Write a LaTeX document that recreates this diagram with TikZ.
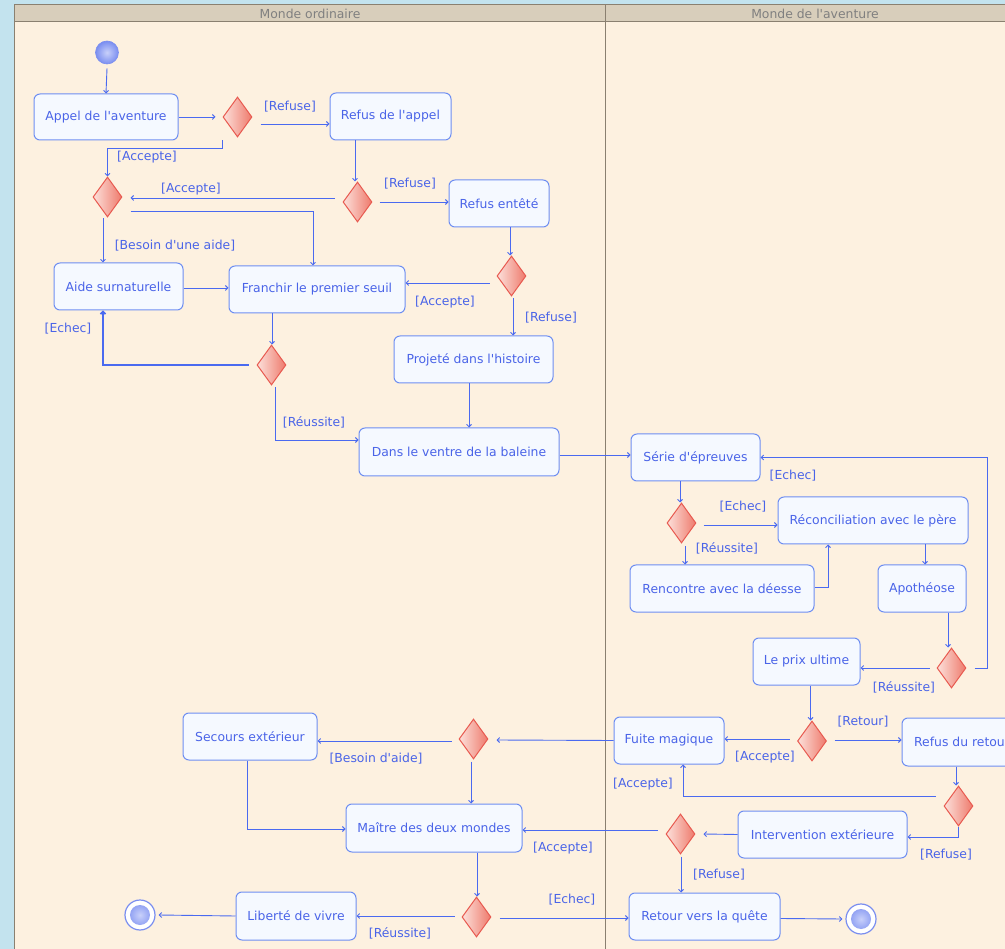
\documentclass[tikz,border=0pt]{standalone}
\usepackage{fontspec}
\setmainfont{DejaVu Sans}[Ligatures=TeXOff]
\usetikzlibrary{arrows.meta,shapes.geometric,calc}

\definecolor{bgblue}{HTML}{C3E3EE}
\definecolor{lanefill}{HTML}{FDF1E0}
\definecolor{headfill}{HTML}{D8CEBB}
\definecolor{framec}{HTML}{8A8070}
\definecolor{headtxt}{HTML}{808080}
\definecolor{linec}{HTML}{4A6AF0}
\definecolor{txtc}{HTML}{4A64E8}
\definecolor{boxc}{HTML}{6E8EF2}
\definecolor{boxf}{HTML}{F5F9FF}
\definecolor{decc}{HTML}{E85A50}
\definecolor{decl}{HTML}{FCE0DA}
\definecolor{decr}{HTML}{EE7A6C}
\definecolor{ballin}{HTML}{C8D0FA}
\definecolor{ballout}{HTML}{7A8EF0}

\begin{document}
\begin{tikzpicture}[x=1pt,y=-1pt,
  font=\fontsize{12.4}{14}\selectfont,
  flow/.style={draw=linec, line width=0.9pt, -{Straight Barb[length=2.5pt,width=5pt]}},
  act/.style={rectangle, rounded corners=6pt, draw=boxc, fill=boxf, line width=1pt,
    text=txtc, inner sep=0pt},
  dec/.style={diamond, draw=decc, line width=1pt, left color=decl, right color=decr,
    minimum width=29pt, minimum height=40pt, inner sep=0pt},
  guard/.style={text=txtc, inner sep=0pt},
  lanetitle/.style={text=headtxt, inner sep=0pt},
  startnode/.style={circle, minimum size=23pt, inner sep=0pt, draw=ballout, line width=0.6pt,
    shading=radial, inner color=ballin, outer color=ballout},
  endnode/.style={circle, minimum size=30pt, inner sep=0pt, draw=ballout, line width=1.2pt,
    fill=white, path picture={\shade[inner color=ballin, outer color=ballout]
      (path picture bounding box.center) circle (10pt);}}
]
\clip (0,0) rectangle (1005,949);
\fill[bgblue] (0,0) rectangle (1005,949);

% swimlanes
\filldraw[fill=lanefill, draw=framec, line width=1pt] (14.5,4.5) rectangle (1040,960);
\filldraw[fill=headfill, draw=framec, line width=1pt] (14.5,4.5) rectangle (1040,22);
\draw[framec, line width=1pt] (605.5,4.5) -- (605.5,960);
\node[lanetitle] (lane1) at (310,13.5) {Monde ordinaire};
\node[lanetitle] (lane2) at (815,13.5) {Monde de l'aventure};

% activities
\node[act, minimum width=144pt, minimum height=46pt] (appel) at (106,117) {Appel de l'aventure};
\node[act, minimum width=121pt, minimum height=47pt] (refusappel) at (390.5,116.5) {Refus de l'appel};
\node[act, minimum width=100pt, minimum height=47pt] (entete) at (499,203.5) {Refus entêté};
\node[act, minimum width=129pt, minimum height=47pt] (aide) at (118.5,286.5) {Aide surnaturelle};
\node[act, minimum width=176pt, minimum height=47pt] (franchir) at (317,289.5) {Franchir le premier seuil};
\node[act, minimum width=159pt, minimum height=47pt] (projete) at (473.5,359.5) {Projeté dans l'histoire};
\node[act, minimum width=200pt, minimum height=48pt] (ventre) at (459,452) {Dans le ventre de la baleine};
\node[act, minimum width=129pt, minimum height=47pt] (serie) at (695.5,457.5) {Série d'épreuves};
\node[act, minimum width=190pt, minimum height=47pt] (reconc) at (873,520.5) {Réconciliation avec le père};
\node[act, minimum width=184pt, minimum height=47pt] (rencontre) at (722,588.5) {Rencontre avec la déesse};
\node[act, minimum width=88pt, minimum height=47pt] (apotheose) at (922,588.5) {Apothéose};
\node[act, minimum width=107pt, minimum height=47pt] (prix) at (806.5,661.5) {Le prix ultime};
\node[act, minimum width=110pt, minimum height=47pt] (fuite) at (669,740.5) {Fuite magique};
\node[act, minimum width=120pt, minimum height=48pt] (refusretour) at (962,742) {Refus du retour};
\node[act, minimum width=169pt, minimum height=47pt] (intervention) at (822.5,834.5) {Intervention extérieure};
\node[act, minimum width=151pt, minimum height=47pt] (retourquete) at (704.5,916.5) {Retour vers la quête};
\node[act, minimum width=134pt, minimum height=47pt] (secours) at (250,736.5) {Secours extérieur};
\node[act, minimum width=176pt, minimum height=48pt] (maitre) at (434,828) {Maître des deux mondes};
\node[act, minimum width=120pt, minimum height=48pt] (liberte) at (296,916) {Liberté de vivre};

% decisions
\node[dec] (d1) at (237.5,117) {};
\node[dec] (d2) at (107.5,197) {};
\node[dec] (d3) at (357.5,202) {};
\node[dec] (d4) at (511.5,276) {};
\node[dec] (d5) at (271.5,365) {};
\node[dec] (d6) at (681.5,523) {};
\node[dec] (d7) at (951.5,668) {};
\node[dec] (d8) at (812,741) {};
\node[dec] (d9) at (958.5,806) {};
\node[dec] (d10) at (680.5,834) {};
\node[dec] (d11) at (473.5,739) {};
\node[dec] (d12) at (476.5,917) {};

% start and end
\node[startnode] (init) at (107,52.5) {};
\node[endnode] (fin1) at (140,915) {};
\node[endnode] (fin2) at (861,919) {};

% flows, ordinary world
\draw[flow] ($(init.south)+(0,4)$) -- (appel.north);
\draw[flow] (appel.east) -- ($(d1.west)+(-7,0)$);
\draw[flow] ($(d1.east)+(8,7)$) -- ($(refusappel.west)+(0,7.5)$);
\draw[flow] ($(d1.south)+(-15.5,3)$) |- ($(d2.north)+(0,-28)$) -- (d2.north);
\draw[flow] ($(refusappel.south)+(-35.5,0)$) -- ($(d3.north)+(-2.5,0)$);
\draw[flow] ($(d3.west)+(-8,-4)$) -- ($(d2.east)+(8,1)$);
\draw[flow] ($(d3.east)+(7,0)$) -- ($(entete.west)+(0,-1.5)$);
\draw[flow] ($(d2.east)+(8,14)$) -| ($(franchir.north)+(-4,0)$);
\draw[flow] ($(d2.south)+(-4.5,1)$) -- ($(aide.north)+(-15.5,0)$);
\draw[flow] ($(aide.east)+(0,1.5)$) -- ($(franchir.west)+(0,-1.5)$);
\draw[flow] ($(entete.south)+(11,0)$) -- ($(d4.north)+(-1.5,0)$);
\draw[flow] ($(d4.west)+(-7,7)$) -- ($(franchir.east)+(0,-6.5)$);
\draw[flow] ($(d4.south)+(1.5,2)$) -- ($(projete.north)+(39.5,0)$);
\draw[flow] ($(franchir.south)+(-45,0)$) -- ($(d5.north)+(0.5,0)$);
\draw[flow, line width=1.6pt] ($(d5.west)+(-8,0)$) -| ($(aide.south)+(-15.5,0)$);
\draw[flow] ($(d5.south)+(3.5,2)$) |- ($(ventre.west)+(0,-12)$);
\draw[flow] ($(projete.south)+(-4.5,0)$) -- ($(ventre.north)+(10,0)$);
\draw[flow] ($(ventre.east)+(0,3)$) -- ($(serie.west)+(0,-2.5)$);

% flows, world of adventure
\draw[flow] ($(serie.south)+(-15.5,0)$) -- ($(d6.north)+(-1.5,0)$);
\draw[flow] ($(d6.east)+(7,2)$) -- ($(reconc.west)+(0,4.5)$);
\draw[flow] ($(d6.south)+(3.5,3)$) -- ($(rencontre.north)+(-37,0)$);
\draw[flow] ($(rencontre.east)+(0,-1.5)$) -| ($(reconc.south)+(-45,0)$);
\draw[flow] ($(reconc.south)+(52,0)$) -- ($(apotheose.north)+(3,0)$);
\draw[flow] ($(apotheose.south)+(26,0)$) -- ($(d7.north)+(-3.5,0)$);
\draw[flow] ($(d7.east)+(8,0)$) -- ++(13,0) |- (serie.east);
\draw[flow] ($(d7.west)+(-7,0)$) -- ($(prix.east)+(0,6.5)$);
\draw[flow] ($(prix.south)+(4,0)$) -- ($(d8.north)+(-1.5,0)$);
\draw[flow] ($(d8.west)+(-7.5,-2)$) -- ($(fuite.east)+(0,-1.5)$);
\draw[flow] ($(d8.east)+(7.5,-1)$) -- ($(refusretour.west)+(0,-2)$);
\draw[flow] ($(refusretour.south)+(-6,0)$) -- ($(d9.north)+(-2.5,0)$);
\draw[flow] ($(d9.west)+(-8,-10)$) -| ($(fuite.south)+(14,0)$);
\draw[flow] (d9.south) |- ($(intervention.east)+(0,2.5)$);
\draw[flow] (intervention.west) -- ($(d10.east)+(8,0)$);
\draw[flow] ($(d10.west)+(-8,-4)$) -- ($(maitre.east)+(0,2)$);
\draw[flow] ($(d10.south)+(0.5,2)$) -- ($(retourquete.north)+(-23.5,0)$);
\draw[flow] (fuite.west) -- ($(d11.east)+(8,1)$);
\draw[flow] ($(d11.west)+(-7,2)$) -- ($(secours.east)+(0,4.5)$);
\draw[flow] ($(d11.south)+(-2.5,2)$) -- ($(maitre.north)+(37,0)$);
\draw[flow] ($(secours.south)+(-3,0)$) |- ($(maitre.west)+(0,1)$);
\draw[flow] ($(maitre.south)+(43,0)$) -- ($(d12.north)+(0.5,0)$);
\draw[flow] ($(d12.west)+(-7,-1)$) -- (liberte.east);
\draw[flow] ($(d12.east)+(8,1)$) -- ($(retourquete.west)+(0,1.5)$);
\draw[flow] (liberte.west) -- ($(fin1.east)+(3,0)$);
\draw[flow] ($(retourquete.east)+(0,2)$) -- ($(fin2.west)+(-3,0)$);

% guards
\node[guard] (g1) at (290,107) {[Refuse]};
\node[guard] (g2) at (147,157) {[Accepte]};
\node[guard] (g3) at (191,189) {[Accepte]};
\node[guard] (g4) at (410,184) {[Refuse]};
\node[guard] (g5) at (175,246) {[Besoin d'une aide]};
\node[guard] (g6) at (445,302) {[Accepte]};
\node[guard] (g7) at (551,318) {[Refuse]};
\node[guard] (g8) at (68,329) {[Echec]};
\node[guard] (g9) at (314,422) {[Réussite]};
\node[guard] (g10) at (793,476) {[Echec]};
\node[guard] (g11) at (743,507) {[Echec]};
\node[guard] (g12) at (727,548) {[Réussite]};
\node[guard] (g13) at (904,687) {[Réussite]};
\node[guard] (g14) at (863,722) {[Retour]};
\node[guard] (g15) at (765,757) {[Accepte]};
\node[guard] (g16) at (643,784) {[Accepte]};
\node[guard] (g17) at (946,855) {[Refuse]};
\node[guard] (g18) at (719,875) {[Refuse]};
\node[guard] (g19) at (376,759) {[Besoin d'aide]};
\node[guard] (g20) at (563,848) {[Accepte]};
\node[guard] (g21) at (572,900) {[Echec]};
\node[guard] (g22) at (400,933) {[Réussite]};
\end{tikzpicture}
\end{document}
